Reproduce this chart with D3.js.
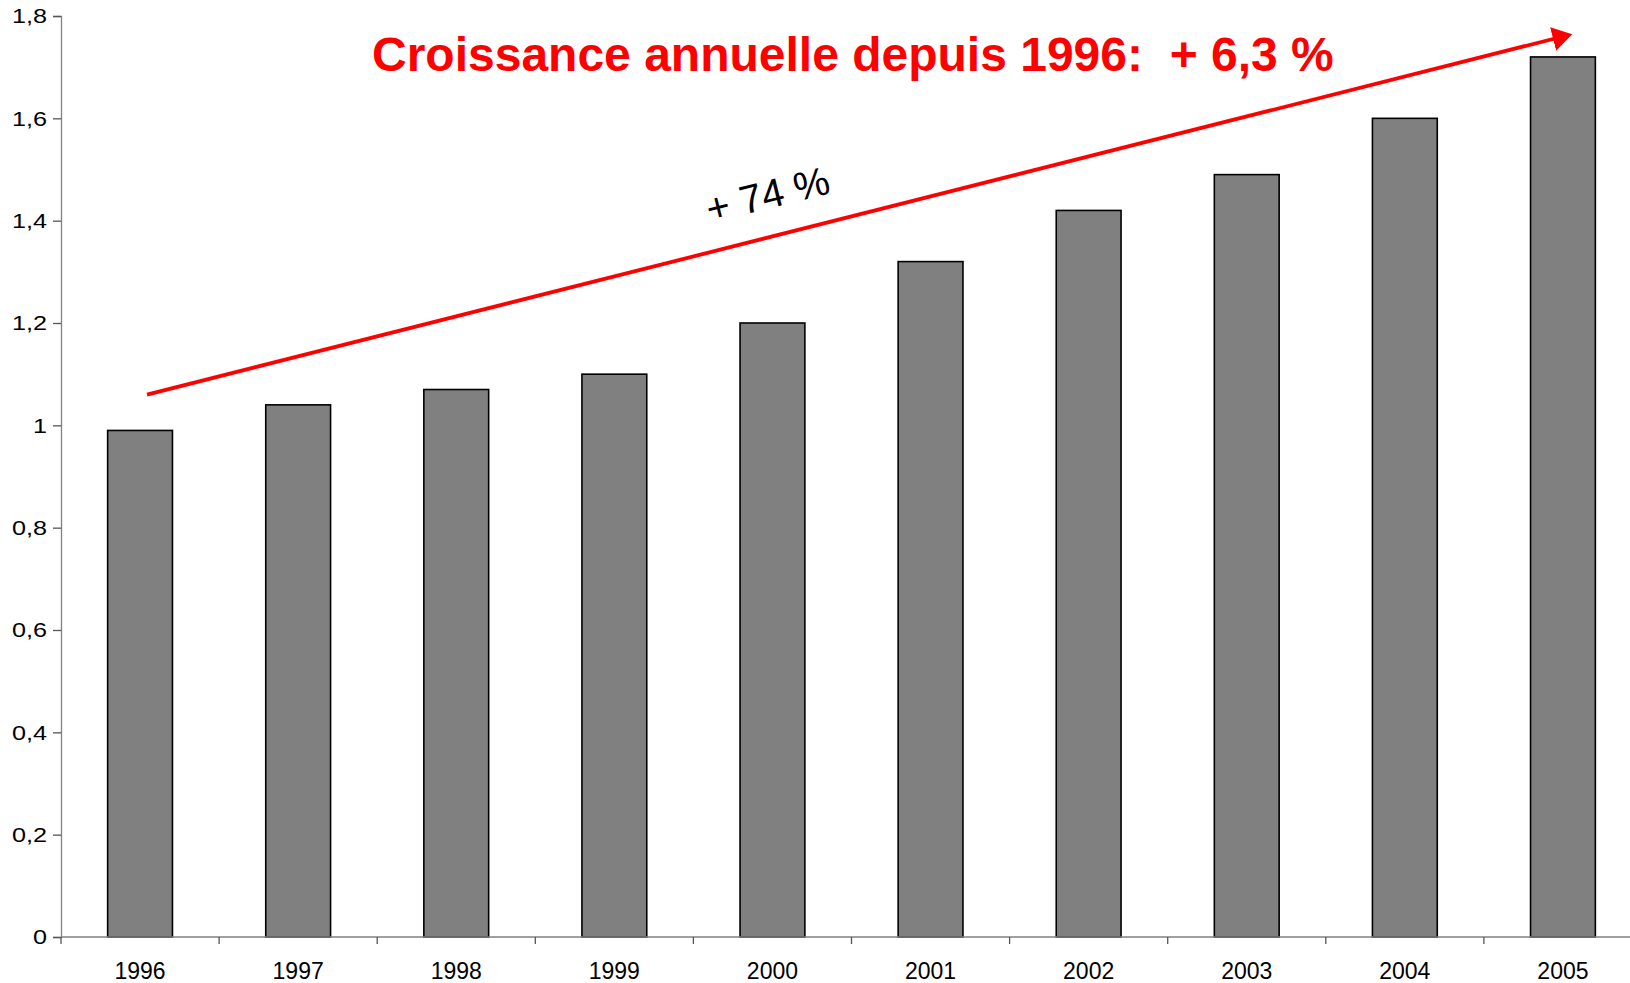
<!DOCTYPE html>
<html>
<head>
<meta charset="utf-8">
<script src="https://cdn.jsdelivr.net/npm/d3@7"></script>
<style>
    body { margin: 0; background: #fff; }
    svg text { font-family: "Liberation Sans", Arial, sans-serif; }
</style>
</head>
<body>
<svg width="1630" height="983"></svg>
<script>
    // data
    const years = ["1996", "1997", "1998", "1999", "2000", "2001", "2002", "2003", "2004", "2005"];
    const values = [0.99, 1.04, 1.07, 1.10, 1.20, 1.32, 1.42, 1.49, 1.60, 1.72];
    const yTicks = [0, 0.2, 0.4, 0.6, 0.8, 1, 1.2, 1.4, 1.6, 1.8];
    const titleText = "Croissance annuelle depuis 1996:  + 6,3 %";
    const growthText = "+ 74 %";

    const svg = d3.select("svg");
    const mLeft = 61, mTop = 16, mBottom = 937;

    const x = d3.scaleBand()
        .domain(years)
        .range([mLeft, mLeft + 158.1 * years.length])
        .paddingInner(0.59)
        .paddingOuter(0.295);

    const y = d3.scaleLinear()
        .domain([0, 1.8])
        .range([mBottom, mTop]);

    const fr = d3.formatLocale({ decimal: ",", thousands: " ", grouping: [3], currency: ["", " €"] });
    const fmt = fr.format("~g");

    // bars
    svg.selectAll("rect.bar")
        .data(values)
        .enter()
        .append("rect")
        .attr("class", "bar")
        .attr("x", (d, i) => x(years[i]))
        .attr("y", d => y(d))
        .attr("width", x.bandwidth())
        .attr("height", d => y(0) - y(d))
        .attr("fill", "#808080")
        .attr("stroke", "#000")
        .attr("stroke-width", 1.6);

    // y axis
    const yAxis = svg.append("g")
        .attr("transform", `translate(${mLeft},0)`)
        .call(d3.axisLeft(y).tickValues(yTicks).tickFormat(fmt).tickSize(8).tickPadding(6));
    yAxis.select(".domain").attr("stroke", "#808080").attr("stroke-width", 1.3);
    yAxis.selectAll(".tick line").attr("stroke", "#555").attr("stroke-width", 1.3);
    yAxis.selectAll("text")
        .attr("font-size", 21)
        .attr("fill", "#000")
        .attr("font-family", "Liberation Sans, Arial, sans-serif")
        .attr("x", -14 / 1.2)
        .attr("transform", "scale(1.2,1)");

    // x axis: labels at centers, ticks at category boundaries
    const step = x.step();
    svg.append("line")
        .attr("x1", mLeft).attr("x2", 1630)
        .attr("y1", y(0)).attr("y2", y(0))
        .attr("stroke", "#808080").attr("stroke-width", 1.3);

    svg.selectAll("line.xtick")
        .data(years)
        .enter()
        .append("line")
        .attr("class", "xtick")
        .attr("x1", d => x(d) + x.bandwidth() / 2 - step / 2)
        .attr("x2", d => x(d) + x.bandwidth() / 2 - step / 2)
        .attr("y1", y(0)).attr("y2", y(0) + 7)
        .attr("stroke", "#555").attr("stroke-width", 1.3);

    svg.selectAll("text.xlab")
        .data(years)
        .enter()
        .append("text")
        .attr("class", "xlab")
        .attr("x", d => x(d) + x.bandwidth() / 2)
        .attr("y", y(0) + 42)
        .attr("text-anchor", "middle")
        .attr("font-size", 23)
        .attr("fill", "#000")
        .text(d => d);

    // growth arrow
    svg.append("defs").append("marker")
        .attr("id", "head")
        .attr("viewBox", "0 0 10 13")
        .attr("preserveAspectRatio", "none")
        .attr("refX", 2).attr("refY", 6.5)
        .attr("markerWidth", 5.2).attr("markerHeight", 6.4)
        .attr("orient", "auto")
        .append("path")
        .attr("d", "M0,0 L10,6.5 L0,13 Z")
        .attr("fill", "#ff0000");

    const x0 = x(years[0]) + x.bandwidth() / 2 + 7;
    const y0 = y(1.06);
    const x1 = x(years[years.length - 1]) + x.bandwidth() / 2 - 6;
    const y1 = y(1.757);
    svg.append("line")
        .attr("x1", x0).attr("y1", y0)
        .attr("x2", x1).attr("y2", y1)
        .attr("stroke", "#ff0000")
        .attr("stroke-width", 3.8)
        .attr("marker-end", "url(#head)");

    svg.append("text")
        .attr("transform", `translate(771,208) rotate(-14)`)
        .attr("text-anchor", "middle")
        .attr("font-family", "DejaVu Sans, Verdana, sans-serif")
        .attr("font-size", 40)
        .attr("fill", "#000")
        .text(growthText);

    svg.append("text")
        .attr("x", 372)
        .attr("y", 71)
        .attr("font-size", 48)
        .attr("font-weight", "bold")
        .attr("fill", "#ff0000")
        .style("white-space", "pre")
        .text(titleText);
</script>
</body>
</html>
